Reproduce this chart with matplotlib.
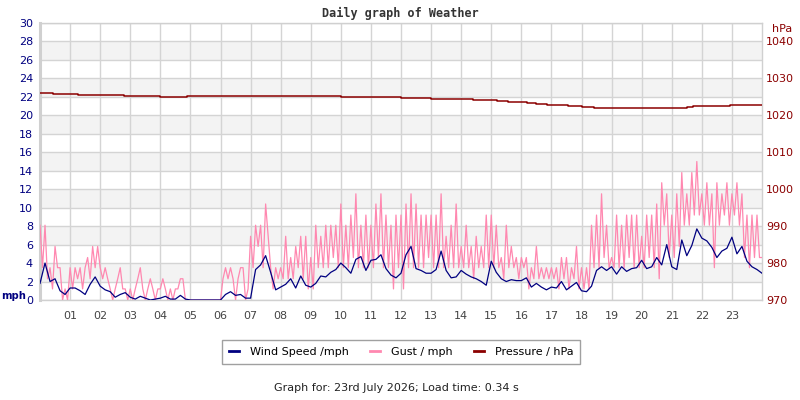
import numpy as np
import matplotlib
matplotlib.use('Agg')
import matplotlib.pyplot as plt
from matplotlib.lines import Line2D

# wind speed, mph, one reading every 10 minutes
wind = [
    1.8, 4.0, 2.0, 2.3, 1.0, 0.6,   # 00
    1.3, 1.3, 1.0, 0.6, 1.7, 2.5,   # 01
    1.5, 1.1, 0.9, 0.3, 0.6, 0.8,   # 02
    0.3, 0.1, 0.4, 0.2, 0.0, 0.1,   # 03
    0.2, 0.4, 0.1, 0.1, 0.5, 0.1,   # 04
    0.0, 0.0, 0.0, 0.0, 0.0, 0.0,   # 05
    0.0, 0.6, 0.9, 0.5, 0.6, 0.2,   # 06
    0.2, 3.3, 3.8, 4.8, 3.0, 1.1,   # 07
    1.4, 1.7, 2.3, 1.3, 2.6, 1.6,   # 08
    1.4, 1.8, 2.6, 2.5, 3.0, 3.3,   # 09
    4.0, 3.5, 2.9, 4.4, 4.7, 3.2,   # 10
    4.3, 4.4, 4.9, 3.4, 2.7, 2.4,   # 11
    2.9, 4.9, 5.8, 3.4, 3.2, 2.9,   # 12
    2.9, 3.3, 5.3, 3.2, 2.4, 2.5,   # 13
    3.2, 2.8, 2.5, 2.3, 2.0, 1.6,   # 14
    4.2, 3.0, 2.3, 2.0, 2.2, 2.1,   # 15
    2.1, 2.4, 1.4, 1.8, 1.4, 1.1,   # 16
    1.4, 1.3, 2.0, 1.1, 1.5, 1.9,   # 17
    1.0, 0.9, 1.5, 3.2, 3.6, 3.2,   # 18
    3.6, 2.8, 3.6, 3.1, 3.4, 3.5,   # 19
    4.3, 3.4, 3.6, 4.6, 3.8, 6.0,   # 20
    3.6, 3.3, 6.5, 4.8, 5.9, 7.7,   # 21
    6.7, 6.4, 5.7, 4.6, 5.3, 5.6,   # 22
    6.8, 5.0, 5.8, 4.2, 3.6, 3.3,   # 23
    2.9]

# gust, mph, one reading every 5 minutes
gust = [
    8.1, 3.5, 8.1, 2.3, 3.5, 1.2, 5.8, 3.5, 3.5, 0.0, 1.2, 0.0,     # 00
    3.5, 1.2, 3.5, 2.3, 3.5, 1.2, 3.5, 4.6, 2.3, 5.8, 3.5, 5.8,     # 01
    3.5, 2.3, 3.5, 2.3, 1.2, 0.0, 1.2, 2.3, 3.5, 1.2, 1.2, 0.0,     # 02
    1.2, 0.0, 1.2, 2.3, 3.5, 1.2, 0.0, 1.2, 2.3, 1.2, 0.0, 1.2,     # 03
    1.2, 2.3, 1.2, 0.0, 1.2, 0.0, 1.2, 1.2, 2.3, 2.3, 0.0, 0.0,     # 04
    0.0, 0.0, 0.0, 0.0, 0.0, 0.0, 0.0, 0.0, 0.0, 0.0, 0.0, 0.0,     # 05
    0.0, 2.3, 3.5, 2.3, 3.5, 2.3, 0.0, 2.3, 3.5, 3.5, 0.0, 1.2,     # 06
    6.9, 3.5, 8.1, 5.8, 8.1, 3.5, 10.4, 6.9, 3.5, 1.2, 3.5, 2.3,    # 07
    3.5, 2.3, 6.9, 2.3, 4.6, 2.3, 5.8, 3.5, 6.9, 2.3, 6.9, 1.2,     # 08
    4.6, 1.2, 8.1, 3.5, 6.9, 3.5, 8.1, 3.5, 8.1, 4.6, 8.1, 3.5,     # 09
    10.4, 3.5, 8.1, 3.5, 9.2, 4.6, 11.5, 3.5, 8.1, 3.5, 9.2, 3.5,   # 10
    8.1, 3.5, 10.4, 4.6, 11.5, 3.5, 9.2, 3.5, 8.1, 1.2, 9.2, 3.5,   # 11
    9.2, 1.2, 10.4, 3.5, 11.5, 3.5, 10.4, 3.5, 9.2, 3.5, 9.2, 4.6,  # 12
    9.2, 3.5, 9.2, 3.5, 11.5, 3.5, 6.9, 3.5, 8.1, 3.5, 10.4, 3.5,   # 13
    5.8, 3.5, 8.1, 3.5, 5.8, 2.3, 6.9, 3.5, 5.8, 3.5, 9.2, 3.5,     # 14
    9.2, 3.5, 8.1, 3.5, 4.6, 2.3, 8.1, 3.5, 5.8, 3.5, 4.6, 2.3,     # 15
    4.6, 3.5, 4.6, 1.2, 3.5, 2.3, 5.8, 2.3, 3.5, 2.3, 3.5, 2.3,     # 16
    3.5, 2.3, 3.5, 1.2, 4.6, 2.3, 4.6, 1.2, 3.5, 2.3, 5.8, 1.2,     # 17
    3.5, 1.2, 3.5, 1.2, 8.1, 3.5, 9.2, 3.5, 11.5, 4.6, 8.1, 3.5,    # 18
    4.6, 3.5, 9.2, 3.5, 8.1, 3.5, 9.2, 4.6, 9.2, 3.5, 9.2, 3.5,     # 19
    6.9, 3.5, 9.2, 4.6, 9.2, 3.5, 10.4, 2.3, 12.7, 8.1, 11.5, 4.6,  # 20
    9.2, 4.6, 11.5, 5.8, 13.8, 8.1, 11.5, 8.1, 13.8, 9.2, 15.0, 9.2,  # 21
    11.5, 8.1, 12.7, 8.1, 11.5, 3.5, 12.7, 8.1, 11.5, 9.2, 12.7, 8.1, # 22
    11.5, 9.2, 12.7, 8.1, 11.5, 4.6, 9.2, 3.5, 9.2, 4.6, 9.2, 4.6,    # 23
    4.6]

# pressure, hPa, value holds from each time until the next
pressure_hours = [0, 0.43, 1.26, 2.8, 4.0, 4.9, 10.0, 12.0, 13.0, 14.4, 15.2,
                  15.55, 16.2, 16.5, 16.85, 17.55, 18.0, 18.4, 21.5, 21.7, 22.95, 24]
pressure_hpa = [1026.0, 1025.7, 1025.4, 1025.2, 1024.9, 1025.2, 1024.9, 1024.6,
                1024.4, 1024.2, 1023.9, 1023.6, 1023.3, 1023.0, 1022.7, 1022.5,
                1022.2, 1021.9, 1022.2, 1022.5, 1022.7, 1022.7]

hour_labels = ['%02d' % h for h in range(1, 24)]
mph_ticks = list(range(0, 31, 2))
hpa_ticks = list(range(970, 1041, 10))

WIND_C = '#000080'
GUST_C = '#ff88b0'
PRES_C = '#8b0000'
GRID_C = '#d4d4d4'
FS = 8

wind_t = np.arange(len(wind)) / 6.0
gust_t = np.arange(len(gust)) / 12.0

fig = plt.figure(figsize=(8, 4), dpi=100)
ax = fig.add_axes([40/800, 100/400, 722/800, 277/400])
ax.set_xlim(0, 24)
ax.set_ylim(0, 30)

for lo in range(2, 30, 4):
    ax.axhspan(lo, lo + 2, color='#f3f3f3', zorder=0, linewidth=0)

ax.set_yticks(mph_ticks)
ax.set_xticks(range(1, 24))
ax.set_xticklabels(hour_labels)
ax.grid(True, color=GRID_C, linewidth=1)
ax.set_axisbelow(True)
ax.tick_params(axis='y', length=0, pad=5, labelsize=FS, labelcolor=WIND_C)
ax.tick_params(axis='x', length=0, pad=8, labelsize=FS, labelcolor='#444444')
for s in ax.spines.values():
    s.set_color('#d0d0d0')
    s.set_linewidth(1)
ax.spines['left'].set_linewidth(2.2)

ax.plot(gust_t, gust, color=GUST_C, linewidth=0.9, zorder=3)
ax.plot(wind_t, wind, color=WIND_C, linewidth=0.9, zorder=4)

ax2 = ax.twinx()
ax2.set_ylim(970, 1045)
ax2.set_yticks(hpa_ticks)
ax2.tick_params(axis='y', length=0, pad=3, labelsize=FS, labelcolor=PRES_C)
for s in ax2.spines.values():
    s.set_visible(False)
ax2.plot(pressure_hours, pressure_hpa, color=PRES_C, linewidth=1.1,
         drawstyle='steps-post', zorder=5)

fig.text(0.5, 1 - 13/400, 'Daily graph of Weather', ha='center', va='center',
         family='DejaVu Sans Mono', weight='bold', fontsize=8.5, color='#333333')
fig.text(1/800, 1 - 296/400, 'mph', ha='left', va='center', weight='bold',
         fontsize=7.2, color=WIND_C)
fig.text(772/800, 1 - 29/400, 'hPa', ha='left', va='center',
         fontsize=FS, color=PRES_C)

handles = [Line2D([], [], color=WIND_C, linewidth=2),
           Line2D([], [], color=GUST_C, linewidth=2),
           Line2D([], [], color=PRES_C, linewidth=2)]
names = ['Wind Speed /mph', 'Gust / mph', 'Pressure / hPa']
leg = fig.legend(handles, names, loc='center', bbox_to_anchor=(401/800, 1 - 352/400),
                 ncol=3, fontsize=FS, frameon=True, fancybox=False, edgecolor='#888888',
                 handlelength=0.9, handletextpad=1.0, columnspacing=1.9,
                 borderpad=0.6)
leg.get_frame().set_linewidth(1)

fig.text(396/800, 1 - 388/400, 'Graph for: 23rd July 2026; Load time: 0.34 s',
         ha='center', va='center', fontsize=FS, color='#222222')

fig.savefig('out.png', dpi=100)
